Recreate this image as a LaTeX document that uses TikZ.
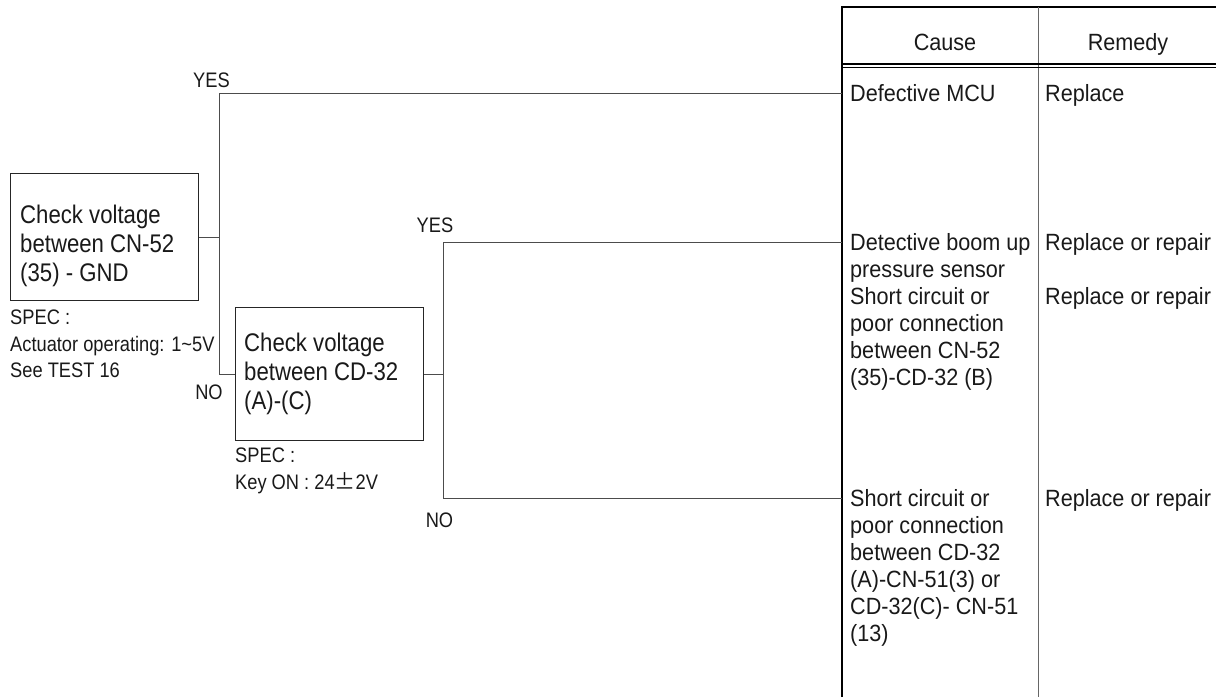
\documentclass[tikz,border=0pt]{standalone}
\usepackage{fontspec}
\usetikzlibrary{calc}
\setmainfont[FakeStretch=0.87]{Liberation Sans}
\newfontfamily\tabfont[FakeStretch=0.92]{Liberation Sans}
\newfontfamily\cjk{Noto Sans CJK SC}
\begin{document}
\begin{tikzpicture}[x=1pt,y=-1pt,
  big/.style={font=\fontsize{25.5}{29}\selectfont, inner sep=0pt, align=left, text=black!90},
  tab/.style={font=\tabfont\fontsize{23.5}{27}\selectfont, inner sep=0pt, align=left, text=black!90},
  small/.style={font=\fontsize{21}{26.5}\selectfont, inner sep=0pt, align=left, text=black!90},
  boxst/.style={draw=black!85, line width=1.1pt, inner sep=0pt},
  conn/.style={draw=black!70, line width=0.9pt},
  tline/.style={draw=black, line width=1.2pt},
  tmid/.style={draw=black!60, line width=1pt}]
\useasboundingbox (0,0) rectangle (1216,697);

% table
\coordinate (tTL) at (842,7);
\coordinate (tBL) at (842,697);
\coordinate (tTR) at (1216,7);
\coordinate (tTM) at (1038,7);
\coordinate (tBM) at (1038,697);
\draw[tline] (tBL) -- (tTL) -- (tTR);
\draw[tmid] (tTM) -- (tBM);
\draw[tline] (842,64) -- (1216,64);
\draw[tline] (842,67.5) -- (1216,67.5);
\node[tab, anchor=base] (hc) at (945,50.5) {Cause};
\node[tab, anchor=base] (hr) at (1128,50.5) {Remedy};

% boxes
\node[boxst, minimum width=188pt, minimum height=127pt, anchor=north west] (b1) at (10,173) {};
\node[big, anchor=north west] (t1) at (20,204.4) {Check voltage\\between CN-52\\(35) - GND};
\node[small, anchor=north west] (s1) at (10,309.7) {SPEC :\\Actuator operating: 1\char`~5V\\See TEST 16};

\node[boxst, minimum width=188pt, minimum height=133pt, anchor=north west] (b2) at (235,307) {};
\node[big, anchor=north west] (t2) at (244,332.4) {Check voltage\\between CD-32\\(A)-(C)};
\node[small, anchor=north west] (s2) at (235,447.7) {SPEC :\\Key ON : 24{\cjk ±}2V};

% causes
\node[tab, anchor=north west] (c1) at (850,84.3) {Defective MCU};
\node[tab, anchor=north west] (c2) at (850,233.3) {Detective boom up\\pressure sensor\\Short circuit or\\poor connection\\between CN-52\\(35)-CD-32 (B)};
\node[tab, anchor=north west] (c3) at (850,489.3) {Short circuit or\\poor connection\\between CD-32\\(A)-CN-51(3) or\\CD-32(C)- CN-51\\(13)};
\node[tab, anchor=base west] (r1) at (1045,101.5) {Replace};
\node[tab, anchor=base west] (r2) at (1045,250.5) {Replace or repair};
\node[tab, anchor=base west] (r3) at (1045,304.5) {Replace or repair};
\node[tab, anchor=base west] (r4) at (1045,506.5) {Replace or repair};

% connector ends on table
\coordinate (e1) at (842,93);
\coordinate (e2) at (842,242);
\coordinate (e3) at (842,498);
\coordinate (j1) at ($(b1.east)+(20,0)$);
\coordinate (j2) at ($(b2.east)+(19,0)$);

\draw[conn] (b1.east) -- (j1);
\draw[conn] (j1) |- (e1);
\draw[conn] (j1) |- (b2.west);
\draw[conn] (b2.east) -- (j2);
\draw[conn] (j2) |- (e2);
\draw[conn] (j2) |- (e3);

\node[small, anchor=base] (y1) at (211.5,87) {YES};
\node[small, anchor=base] (n1) at (209,399) {NO};
\node[small, anchor=base] (y2) at (435,232) {YES};
\node[small, anchor=base] (n2) at (439.5,527) {NO};
\end{tikzpicture}
\end{document}
